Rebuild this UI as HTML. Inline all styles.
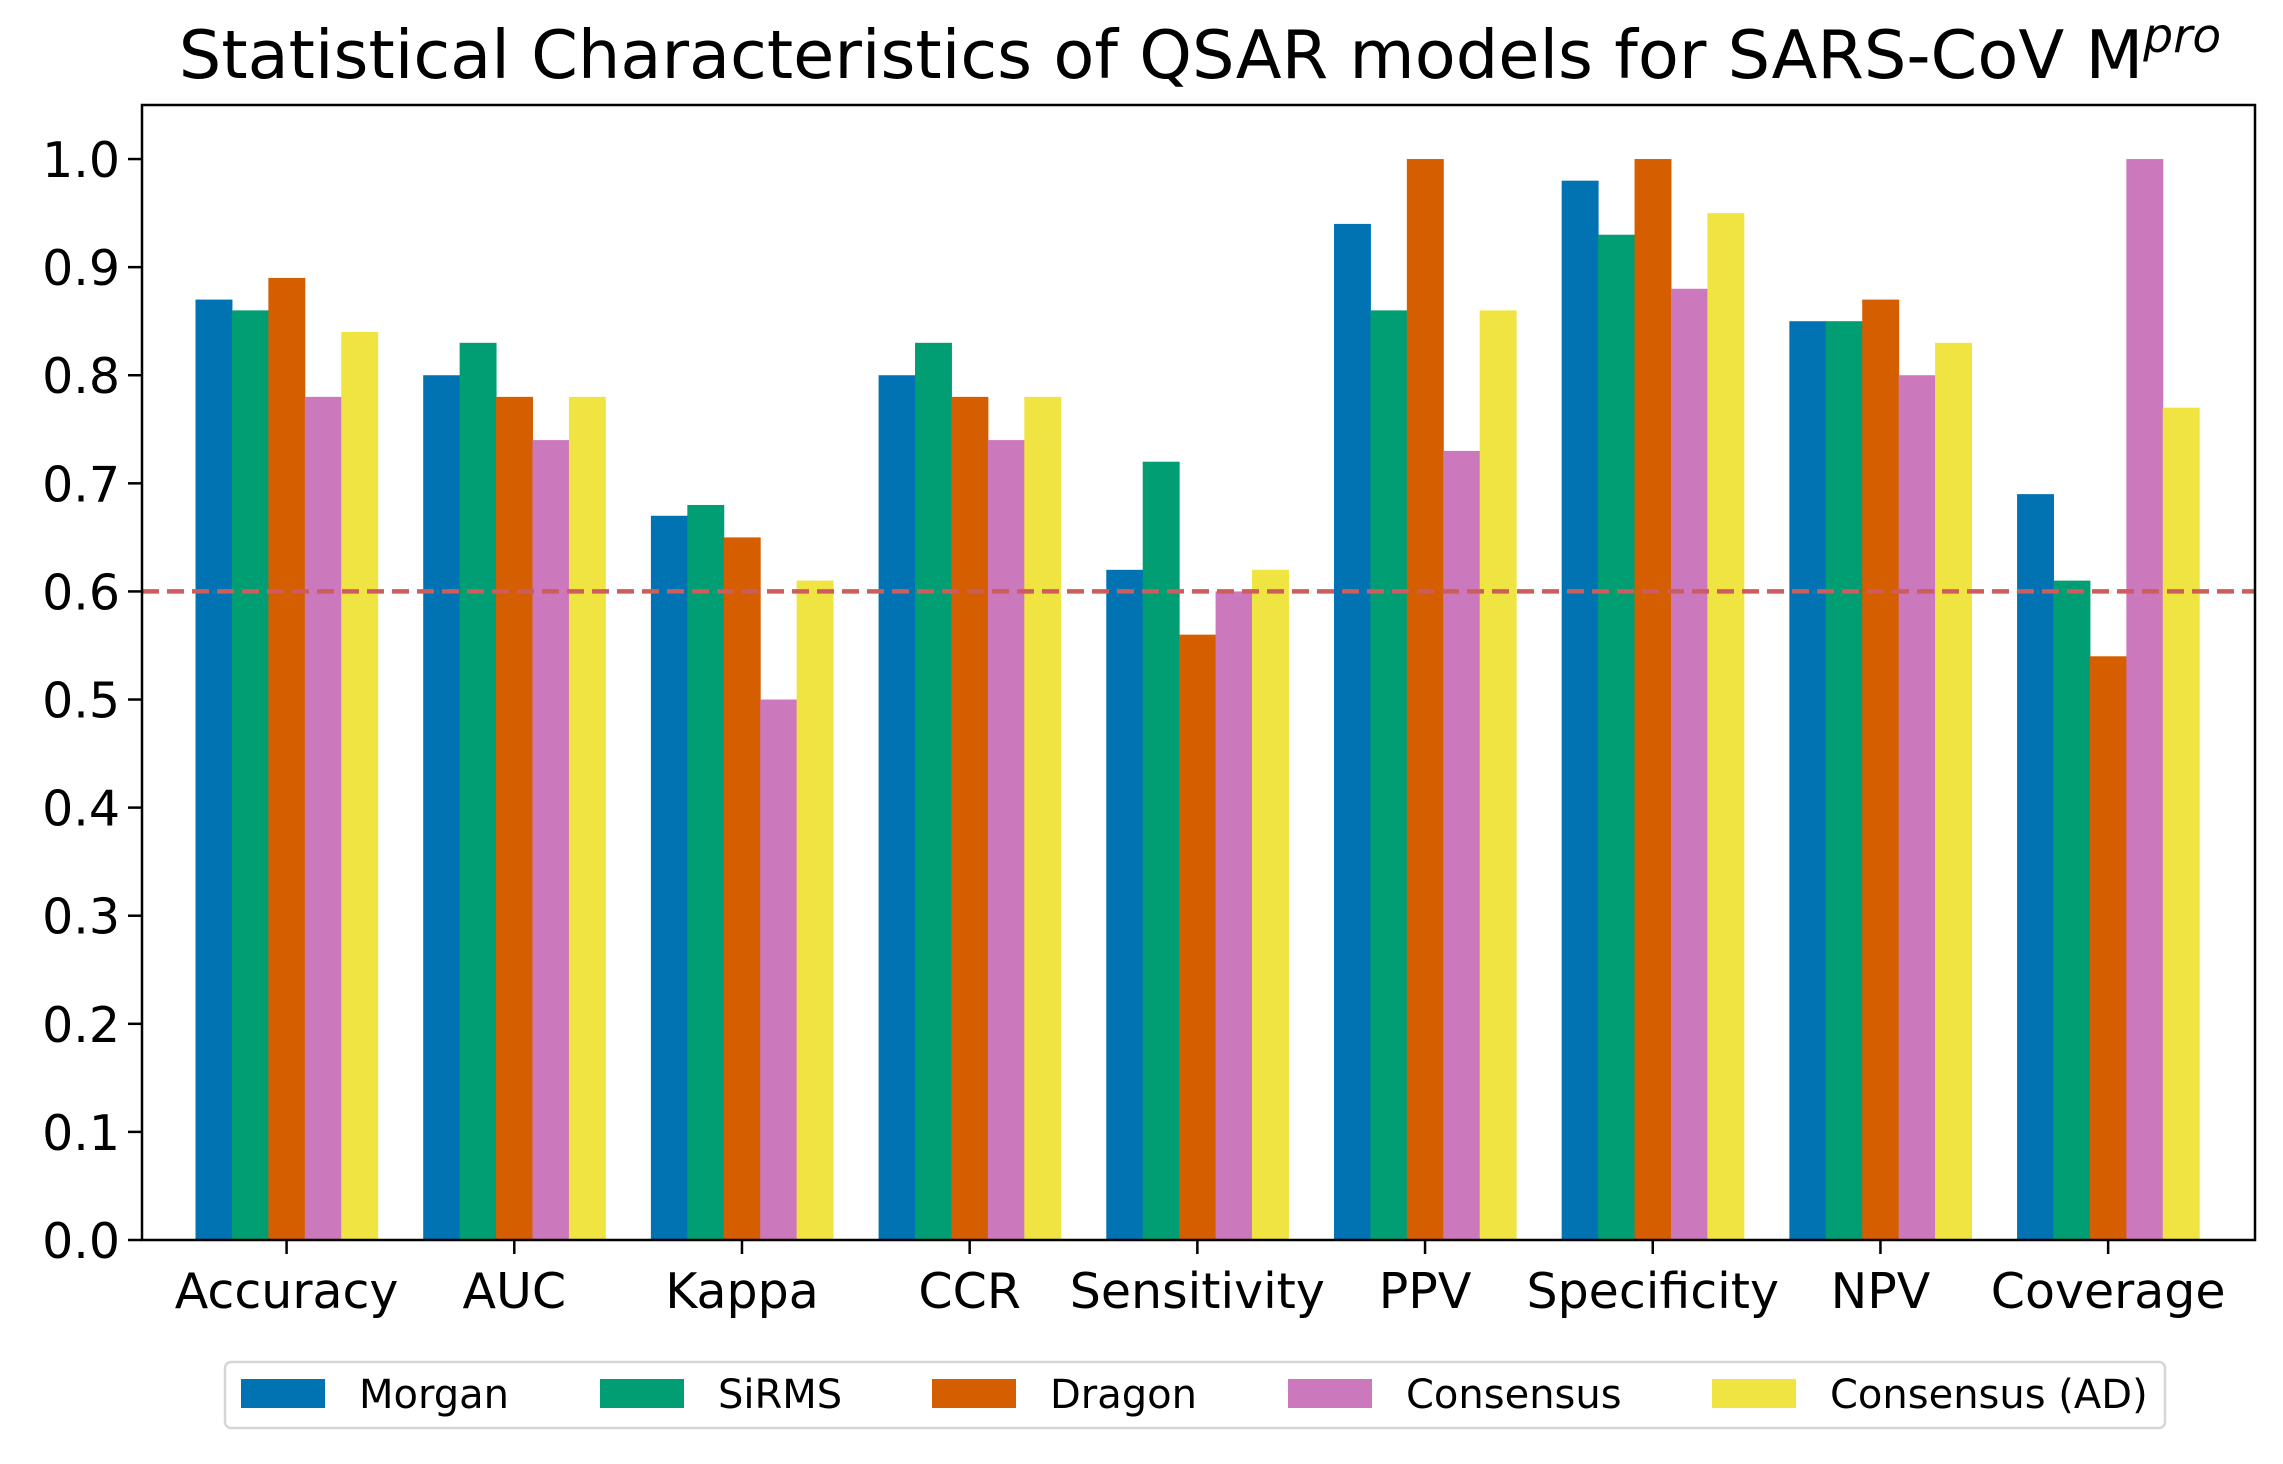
<!DOCTYPE html>
<html><head><meta charset="utf-8"><style>
html,body{margin:0;padding:0;background:#fff}
svg{display:block;font-family:"DejaVu Sans","Liberation Sans",sans-serif}
</style></head><body>
<svg id="chart" width="2283" height="1464" viewBox="0 0 2283 1464">
<text x="1200" y="78" font-size="67" text-anchor="middle">Statistical Characteristics of QSAR models for SARS-CoV M<tspan font-style="italic" font-size="47" dy="-26">pro</tspan></text>
<g id="bars"></g>
<g id="axes"></g>
<g id="legend"></g>
</svg>
<script>
const categories = ["Accuracy","AUC","Kappa","CCR","Sensitivity","PPV","Specificity","NPV","Coverage"];
const seriesNames = ["Morgan","SiRMS","Dragon","Consensus","Consensus (AD)"];
const morgan    = [0.87,0.80,0.67,0.80,0.62,0.94,0.98,0.85,0.69];
const sirms     = [0.86,0.83,0.68,0.83,0.72,0.86,0.93,0.85,0.61];
const dragon    = [0.89,0.78,0.65,0.78,0.56,1.00,1.00,0.87,0.54];
const consensus = [0.78,0.74,0.50,0.74,0.60,0.73,0.88,0.80,1.00];
const consensusAD = [0.84,0.78,0.61,0.78,0.62,0.86,0.95,0.83,0.77];
const yTicks = [0.0,0.1,0.2,0.3,0.4,0.5,0.6,0.7,0.8,0.9,1.0];
const threshold = 0.6;

const series = [morgan, sirms, dragon, consensus, consensusAD];
const colors = ["#0173b2","#029e73","#d55e00","#cc78bc","#f0e442"];
const L=142,R=2255,T=105,B=1240;
const xMin=-0.635,xMax=8.645,yMax=1.05;
const xs=v=>L+(v-xMin)/(xMax-xMin)*(R-L);
const ys=v=>B-v/yMax*(B-T);
const NS="http://www.w3.org/2000/svg";
function mk(tag,attrs,parent){const e=document.createElementNS(NS,tag);for(const k in attrs)e.setAttribute(k,attrs[k]);parent.appendChild(e);return e;}
const gb=document.getElementById('bars'),ga=document.getElementById('axes'),gl=document.getElementById('legend');
const bw=0.16;
series.forEach((s,si)=>{
  s.forEach((v,ci)=>{
    const x0=xs(ci-0.4+si*bw),x1=xs(ci-0.4+(si+1)*bw);
    const r=mk('rect',{x:x0,y:ys(v),width:x1-x0+0.5,height:ys(0)-ys(v),fill:colors[si]},gb);
    
    
  });
});
const th=mk('line',{x1:L,x2:R,y1:ys(threshold),y2:ys(threshold),stroke:"#cd5c5c","stroke-width":4.5,"stroke-dasharray":"17 8"},ga);


const fr=mk('rect',{x:L,y:T,width:R-L,height:B-T,fill:"none",stroke:"#000","stroke-width":2.5},ga);


yTicks.forEach(v=>{
  mk('line',{x1:L-14,x2:L,y1:ys(v),y2:ys(v),stroke:"#000","stroke-width":2.5},ga);
  const t=mk('text',{x:L-22,y:ys(v)+18,"font-size":49,"text-anchor":"end"},ga);
  t.textContent=v.toFixed(1);
  
  
});
categories.forEach((c,i)=>{
  mk('line',{x1:xs(i),x2:xs(i),y1:B,y2:B+14,stroke:"#000","stroke-width":2.5},ga);
  const t=mk('text',{x:xs(i),y:B+68,"font-size":49,"text-anchor":"middle"},ga);
  t.textContent=c;
  
  
});
const lb=mk('rect',{x:225,y:1362,width:1940,height:66,rx:6,fill:"#fff",stroke:"#d6d6d6","stroke-width":2.5},gl);


const lx=[241,600,932,1288,1712];
seriesNames.forEach((n,i)=>{
  const p=mk('rect',{x:lx[i],y:1379,width:84,height:29,fill:colors[i]},gl);
  
  
  const t=mk('text',{x:lx[i]+118,y:1408,"font-size":40},gl);
  t.textContent=n;
  
  
});
</script>
</body></html>
